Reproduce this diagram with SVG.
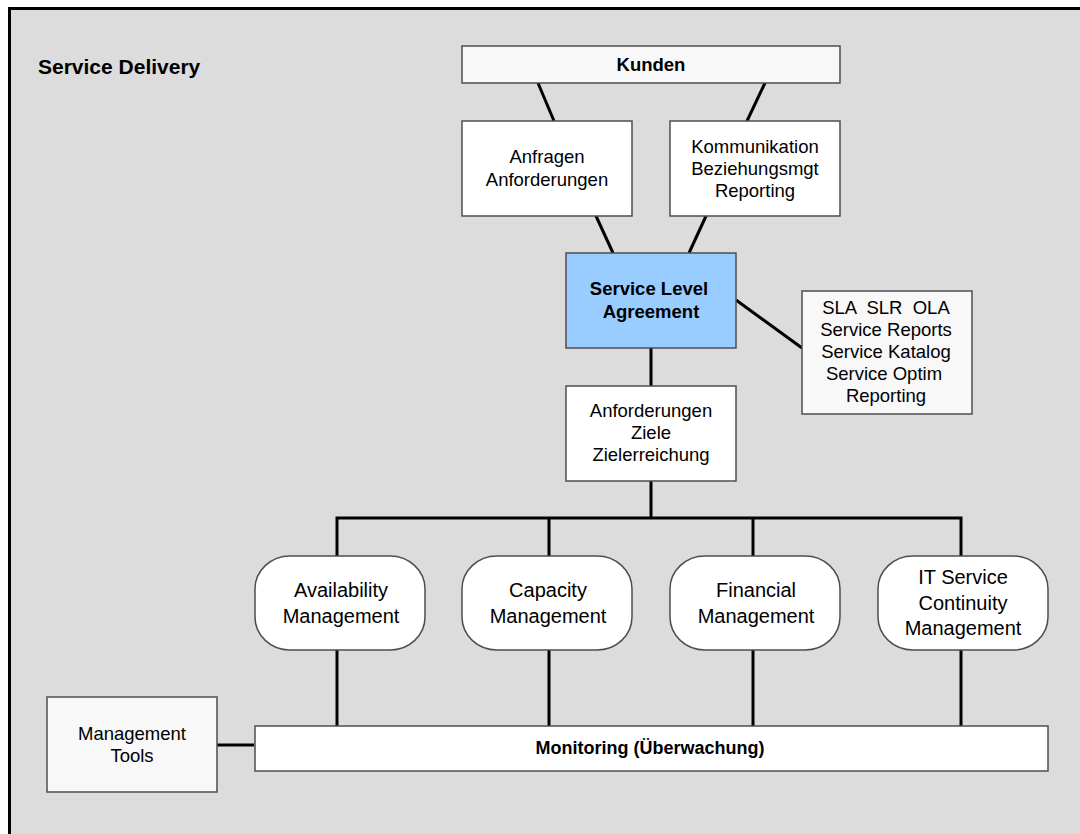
<svg xmlns="http://www.w3.org/2000/svg" width="1080" height="834" viewBox="0 0 1080 834">
<style>
text{font-family:"Liberation Sans",Arial,sans-serif;fill:#000;text-anchor:middle}
.r{font-size:18.5px}
.n{font-size:20px}
.b{font-size:18.5px;font-weight:bold}
.box{stroke:#4d4d4d;stroke-width:1.5}
.w{fill:#ffffff}
.g{fill:#f8f8f8}
.c line,.c polyline{stroke:#000;stroke-width:3;fill:none}
</style>
<rect x="0" y="0" width="1080" height="834" fill="#ffffff"/>
<rect x="9.5" y="8.5" width="1090" height="850" fill="#dcdcdc" stroke="#000" stroke-width="3"/>
<text x="38" y="74" style="text-anchor:start;font-size:21px;font-weight:bold">Service Delivery</text>
<g id="connectors" class="c">
<line x1="538" y1="83" x2="554" y2="121"/>
<line x1="765" y1="83" x2="747" y2="121"/>
<line x1="596" y1="216" x2="613" y2="253"/>
<line x1="706" y1="216" x2="689" y2="253"/>
<line x1="736" y1="300" x2="802" y2="348"/>
<line x1="651" y1="348" x2="651" y2="386"/>
<line x1="651" y1="481" x2="651" y2="518"/>
<polyline points="337,556 337,518 961,518 961,556"/>
<line x1="549" y1="518" x2="549" y2="556"/>
<line x1="753" y1="518" x2="753" y2="556"/>
<line x1="337" y1="650" x2="337" y2="726"/>
<line x1="549" y1="650" x2="549" y2="726"/>
<line x1="753" y1="650" x2="753" y2="726"/>
<line x1="961" y1="650" x2="961" y2="726"/>
<line x1="217" y1="745" x2="254" y2="745"/>
</g>
<g id="kunden">
<rect class="box g" x="462" y="46" width="378" height="37"/>
<text class="b" x="651" y="71">Kunden</text>
</g>
<g id="anfragen">
<rect class="box w" x="462" y="121" width="170" height="95"/>
<text class="r" x="547" y="163">Anfragen</text>
<text class="r" x="547" y="186">Anforderungen</text>
</g>
<g id="kommunikation">
<rect class="box w" x="670" y="121" width="170" height="95"/>
<text class="r" x="755" y="152.5">Kommunikation</text>
<text class="r" x="755" y="175">Beziehungsmgt</text>
<text class="r" x="755" y="197">Reporting</text>
</g>
<g id="sla">
<rect class="box" fill="#99ccff" x="566" y="253" width="170" height="95"/>
<text class="b" x="649" y="294.5">Service Level</text>
<text class="b" x="651" y="317.5">Agreement</text>
</g>
<g id="sla-docs">
<rect class="box g" x="802" y="291" width="170" height="123"/>
<text class="r" x="886" y="314" xml:space="preserve">SLA  SLR  OLA</text>
<text class="r" x="886" y="336">Service Reports</text>
<text class="r" x="886" y="358">Service Katalog</text>
<text class="r" x="884" y="380">Service Optim</text>
<text class="r" x="886" y="402">Reporting</text>
</g>
<g id="anforderungen">
<rect class="box w" x="566" y="386" width="170" height="95"/>
<text class="r" x="651" y="417">Anforderungen</text>
<text class="r" x="651" y="439">Ziele</text>
<text class="r" x="651" y="461">Zielerreichung</text>
</g>
<g id="availability">
<rect class="box w" x="255" y="556" width="170" height="94" rx="35" ry="33"/>
<text class="n" x="341" y="597">Availability</text>
<text class="n" x="341" y="623">Management</text>
</g>
<g id="capacity">
<rect class="box w" x="462" y="556" width="170" height="94" rx="35" ry="33"/>
<text class="n" x="548" y="597">Capacity</text>
<text class="n" x="548" y="623">Management</text>
</g>
<g id="financial">
<rect class="box w" x="670" y="556" width="170" height="94" rx="35" ry="33"/>
<text class="n" x="756" y="597">Financial</text>
<text class="n" x="756" y="623">Management</text>
</g>
<g id="itscm">
<rect class="box w" x="878" y="556" width="170" height="94" rx="35" ry="33"/>
<text class="n" x="963" y="584">IT Service</text>
<text class="n" x="963" y="609.5">Continuity</text>
<text class="n" x="963" y="635">Management</text>
</g>
<g id="monitoring">
<rect class="box w" x="255" y="726" width="793" height="45"/>
<text x="650" y="753.5" style="font-size:18px;font-weight:bold">Monitoring (Überwachung)</text>
</g>
<g id="management-tools">
<rect class="box g" x="47" y="697" width="170" height="95"/>
<text class="r" x="132" y="740">Management</text>
<text class="r" x="132" y="762">Tools</text>
</g>
</svg>
